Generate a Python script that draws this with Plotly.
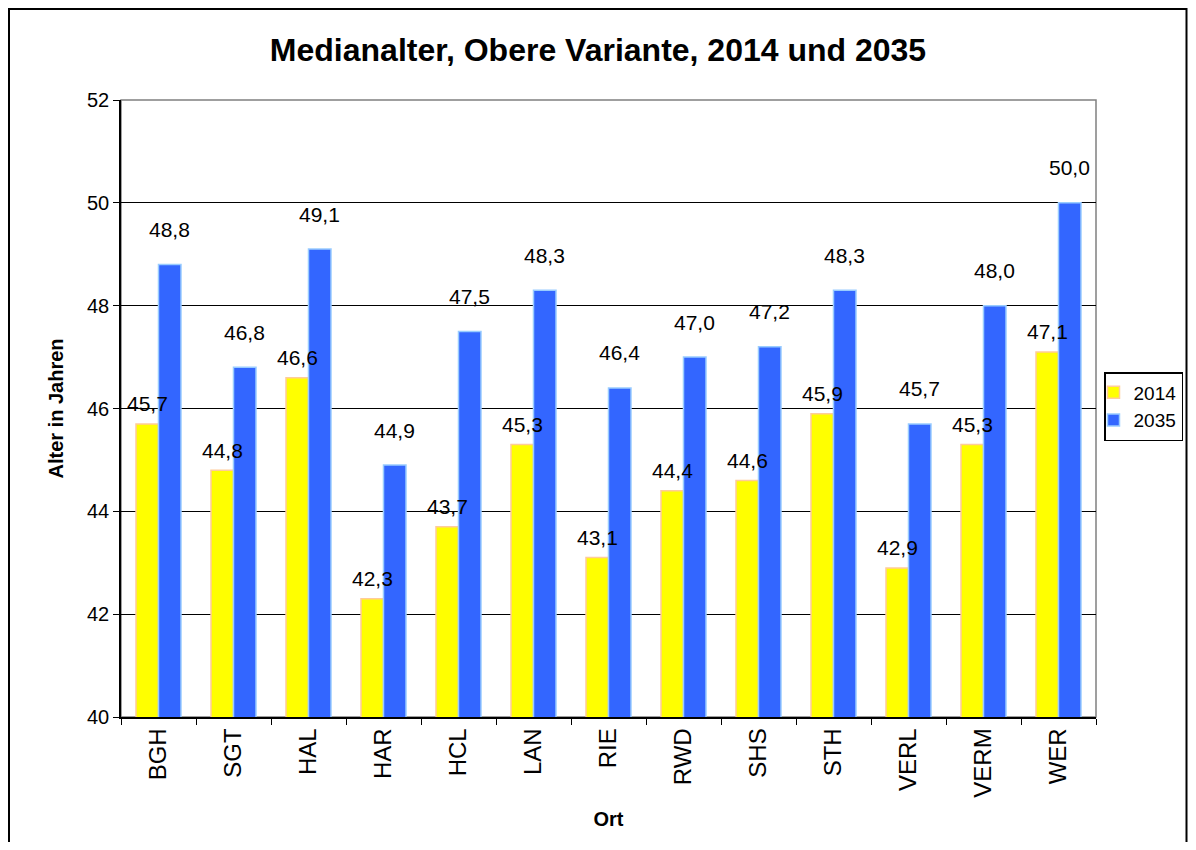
import plotly.graph_objects as go

orte = ["BGH", "SGT", "HAL", "HAR", "HCL", "LAN", "RIE", "RWD", "SHS", "STH", "VERL", "VERM", "WER"]
werte_2014 = [45.7, 44.8, 46.6, 42.3, 43.7, 45.3, 43.1, 44.4, 44.6, 45.9, 42.9, 45.3, 47.1]
werte_2035 = [48.8, 46.8, 49.1, 44.9, 47.5, 48.3, 46.4, 47.0, 47.2, 48.3, 45.7, 48.0, 50.0]
y_ticks = [40, 42, 44, 46, 48, 50, 52]

# page is rendered with an 8px body margin -> figure coords = page coords - 8
W, H = 1180, 834
L, T = 113, 92
PX1, PY1 = 1088, 709
R, B = W - PX1, H - PY1
pw, ph = PX1 - L, PY1 - T
FONT = "Liberation Sans, Arial"

def px(fx):
    return (fx - L) / pw

def py(fy):
    return (PY1 - fy) / ph

fig = go.Figure()
fig.add_trace(go.Bar(name="2014", x=orte, y=werte_2014,
                     marker=dict(color="#FFFF00", line=dict(color="#FFCC99", width=1.5))))
fig.add_trace(go.Bar(name="2035", x=orte, y=werte_2035,
                     marker=dict(color="#3366FF", line=dict(color="#99CCFF", width=1.5))))

fmt = lambda v: f"{v:.1f}".replace(".", ",")
for o, v in zip(orte, werte_2014):
    fig.add_annotation(x=o, y=v, text=fmt(v), showarrow=False, xshift=-11, yshift=20,
                       font=dict(family=FONT, size=21, color="black"))
for o, v in zip(orte, werte_2035):
    fig.add_annotation(x=o, y=v, text=fmt(v), showarrow=False, xshift=11, yshift=35,
                       font=dict(family=FONT, size=21, color="black"))

# outer figure border
fig.add_shape(type="rect", xref="paper", yref="paper",
              x0=px(1), x1=px(W - 1.5), y0=py(H + 20), y1=py(1),
              line=dict(color="black", width=2), layer="below")
# plot area border (top/right grey)
fig.add_shape(type="rect", xref="paper", yref="paper", x0=0, x1=1, y0=0, y1=1,
              line=dict(color="#808080", width=1.5), layer="below")

fig.update_layout(
    width=W, height=H,
    margin=dict(l=L, r=R, t=T, b=B, autoexpand=False),
    paper_bgcolor="white", plot_bgcolor="white",
    font=dict(family=FONT, color="black", size=20),
    title=dict(text="<b>Medianalter, Obere Variante, 2014 und 2035</b>", x=0.5, xref="container",
               y=1 - 42 / H, yref="container", yanchor="middle", font=dict(size=32)),
    barmode="group", bargap=0.4, bargroupgap=0,
    showlegend=True,
    legend=dict(x=(W - 5) / W, y=1 - 364 / H, xref="container", yref="container",
                xanchor="right", yanchor="top", indentation=-12,
                bordercolor="black", borderwidth=1.5, bgcolor="white",
                font=dict(size=19), tracegroupgap=4, itemwidth=30),
    xaxis=dict(title=dict(text="<b>Ort</b>", font=dict(size=20), standoff=15),
               tickangle=-90, tickson="boundaries", ticks="outside", ticklen=6,
               tickcolor="black", showline=True, linecolor="black", linewidth=1.5,
               tickfont=dict(size=24), showgrid=False, automargin=False),
    yaxis=dict(title=dict(text="<b>Alter in Jahren</b>", font=dict(size=20), standoff=18),
               range=[40, 52], tickvals=y_ticks, ticks="outside", ticklen=6, tickcolor="black",
               showline=True, linecolor="black", linewidth=1.5, showgrid=True,
               gridcolor="black", gridwidth=1, tickfont=dict(size=20), zeroline=False,
               automargin=False),
)

fig.write_html("out.html")
